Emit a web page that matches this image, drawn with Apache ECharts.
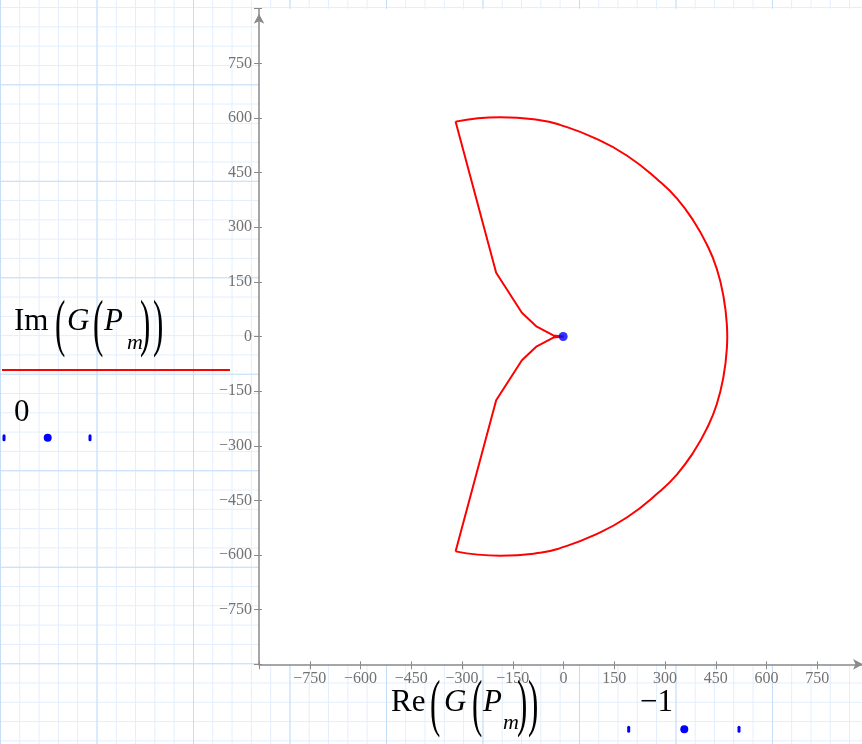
<!DOCTYPE html>
<html>
<head>
  <meta charset="utf-8">
  <title>Nyquist G(P_m)</title>
  <script src="https://cdn.jsdelivr.net/npm/echarts@6.0.0/dist/echarts.min.js"></script>
  <style>
    html, body { margin: 0; padding: 0; }
    /* Mathcad-like grid paper behind the plot */
    #main {
      width: 862px;
      height: 744px;
      background-color: #fff;
      background-image:
        linear-gradient(to right, #c6ddf7 1px, transparent 1px),
        linear-gradient(to bottom, #c6ddf7 1px, transparent 1px),
        linear-gradient(to right, #e2eefc 1px, transparent 1px),
        linear-gradient(to bottom, #e2eefc 1px, transparent 1px);
      background-size: 96.5px 96.5px, 96.5px 96.5px, 19.3px 19.3px, 19.3px 19.3px;
      background-position: 0 0, 0 84.3px, 0 0, 0 7.1px;
    }
  </style>
</head>
<body>
  <div id="main"></div>
  <script>
    // upper half of the contour image (lower half is the conjugate)
    var arcRe = [-319, -187, -69, -10, 89, 187, 285, 335, 384, 424, 453, 473, 483, 484];
    var arcIm = [590, 602, 594, 581, 546, 497, 425, 379, 318, 252, 186, 109, 30, 0];
    var branchRe = [0, -30, -79, -123, -199, -319];
    var branchIm = [0, 3, 27, 65, 175, 590];
    var pointRe = [-1];
    var pointIm = [0];

    var tickValues = [-750, -600, -450, -300, -150, 0, 150, 300, 450, 600, 750];

    var serif = '"Liberation Serif", "DejaVu Serif", serif';
    var axisGray = '#8a8a8a';
    var labelGray = '#727272';

    // arc: top corner -> right -> bottom corner
    var arcData = [];
    for (var i = 0; i < arcRe.length; i++) arcData.push([arcRe[i], arcIm[i]]);
    for (var j = arcRe.length - 2; j >= 0; j--) arcData.push([arcRe[j], -arcIm[j]]);

    // inner branches: top corner -> origin -> bottom corner
    var branchData = [];
    for (var k = branchRe.length - 1; k >= 0; k--) branchData.push([branchRe[k], branchIm[k]]);
    for (var n = 1; n < branchRe.length; n++) branchData.push([branchRe[n], -branchIm[n]]);

    var pointData = pointRe.map(function (v, i) { return [v, pointIm[i]]; });

    function fmt(v) {
      if (tickValues.indexOf(v) < 0) return '';
      return v < 0 ? '\u2212' + Math.abs(v) : String(v);
    }

    function mainAxis(pos) {
      return {
        type: 'value', position: pos, min: -900, max: 900, interval: 150,
        axisLine: {
          onZero: false, symbol: ['none', 'arrow'], symbolSize: [8, 10], symbolOffset: [0, -5],
          lineStyle: { color: axisGray, width: 1.5 }
        },
        axisTick: { show: true, length: 5, lineStyle: { color: axisGray, width: 1 } },
        axisLabel: {
          formatter: fmt, color: labelGray, fontFamily: serif, fontSize: 16,
          margin: pos === 'left' ? 7 : 6
        },
        splitLine: { show: false }
      };
    }
    // second copy only for the inward half of the crossing ticks
    function innerTicks(pos) {
      return {
        type: 'value', position: pos, min: -900, max: 900, interval: 150,
        axisLine: { show: false, onZero: false },
        axisTick: { show: true, inside: true, length: 3, lineStyle: { color: axisGray, width: 1 } },
        axisLabel: { show: false },
        splitLine: { show: false }
      };
    }

    // text pieces of the Mathcad axis expressions
    function piece(text, x, y, size, italic, sy) {
      return {
        type: 'text', x: x, y: y, scaleY: sy || 1, z: 100,
        style: {
          text: text, fill: '#000', fontSize: size, fontFamily: serif,
          fontStyle: italic ? 'italic' : 'normal',
          textAlign: 'left', textVerticalAlign: 'middle'
        }
      };
    }
    function expr(name, x0, base, xs) {
      var c = base - 10, p = base - 5;
      return [
        piece(name, x0, c, 31),
        piece('(', xs[0], p, 31, false, 2.05),
        piece('G', xs[1], c, 31, true),
        piece('(', xs[2], p, 31, false, 2.05),
        piece('P', xs[3], c, 31, true),
        piece('m', xs[4], base + 11, 22, true),
        piece(')', xs[5], p, 31, false, 2.05),
        piece(')', xs[6], p, 31, false, 2.05)
      ];
    }
    function dots(xs, y) {
      return [
        { type: 'rect', z: 100, shape: { x: xs[0] - 1.5, y: y - 3.5, width: 3, height: 7, r: 1.5 }, style: { fill: '#0000ff' } },
        { type: 'circle', z: 100, shape: { cx: xs[1], cy: y, r: 4 }, style: { fill: '#0000ff' } },
        { type: 'rect', z: 100, shape: { x: xs[2] - 1.5, y: y - 3.5, width: 3, height: 7, r: 1.5 }, style: { fill: '#0000ff' } }
      ];
    }

    var graphics = []
      .concat(expr('Im', 14, 332, [55, 67, 93, 104, 127, 140, 153]))
      .concat([
        { type: 'line', z: 100, shape: { x1: 2, y1: 370, x2: 230, y2: 370 }, style: { stroke: '#ff0000', lineWidth: 2 } },
        piece('0', 14, 413, 31)
      ])
      .concat(dots([4, 47.7, 90], 437.7))
      .concat(expr('Re', 391, 712.7, [430, 444, 472, 483, 503, 517, 528]))
      .concat([piece('\u22121', 640, 702.7, 31)])
      .concat(dots([628.7, 684.3, 739], 729.3));

    var myChart = echarts.init(document.getElementById('main'));

    var option = {
      animation: false,
      grid: {
        show: true, backgroundColor: '#ffffff', borderWidth: 0,
        left: 259, top: 8.7, width: 609, height: 655.6,
        outerBoundsMode: 'none', containLabel: false
      },
      xAxis: [mainAxis('bottom'), innerTicks('bottom')],
      yAxis: [mainAxis('left'), innerTicks('left')],
      series: [
        {
          name: 'arc', type: 'line', data: arcData, smooth: 0.5, symbol: 'none',
          lineStyle: { color: '#ff0000', width: 2 }, z: 3
        },
        {
          name: 'branch', type: 'line', data: branchData, smooth: false, symbol: 'none',
          lineStyle: { color: '#ff0000', width: 2 }, z: 3
        },
        {
          name: '-1', type: 'scatter', data: pointData, symbol: 'circle', symbolSize: 9,
          itemStyle: { color: '#0000ff' }, z: 4
        }
      ],
      graphic: graphics
    };

    myChart.setOption(option);
  </script>
</body>
</html>
